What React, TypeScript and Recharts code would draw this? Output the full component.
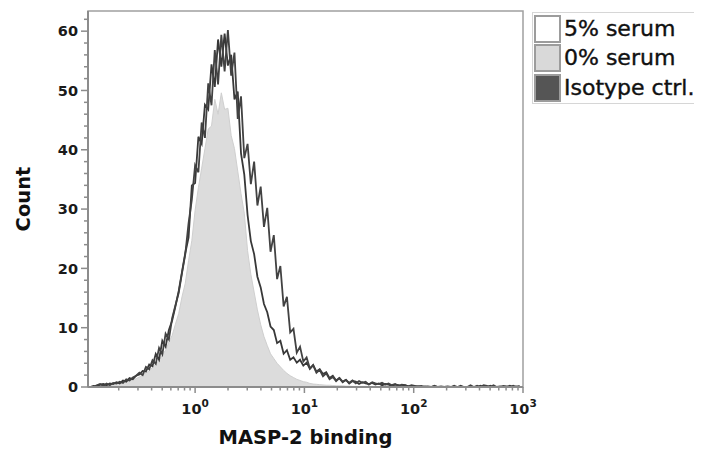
import React from "react";
import { ComposedChart, Area, Line, XAxis, YAxis, ReferenceArea } from "recharts";

// histogram bins on log10(MASP-2 binding)
const binStart = -0.96;
const binStep = 0.03;

const serum5 = [
  0, 0, 0.3, 0.5, 0.2, 0.6, 0.3, 0.7, 0.6, 0.9,
  0.7, 1.3, 1.1, 1.6, 1.9, 2.4, 2.0, 3.4, 3.0, 4.5,
  3.9, 6.6, 5.5, 9.0, 8.0, 11.6, 13.8, 15.9, 19.2, 22.4,
  27.6, 31.6, 37.4, 36.2, 44.6, 42.0, 51.2, 47.5, 56.8, 51.0,
  59.4, 53.2, 60.2, 52.5, 56.4, 45.2, 49.0, 38.6, 41.0, 34.2,
  38.0, 30.6, 33.8, 27.0, 30.2, 22.8, 25.6, 18.2, 20.4, 13.6,
  15.2, 9.2, 9.8, 5.8, 6.8, 4.3, 5.0, 3.1, 3.7, 2.4,
  2.9, 1.8, 2.3, 1.3, 1.7, 1.0, 1.5, 0.9, 1.2, 0.7,
  1.1, 0.6, 1.0, 0.7, 0.9, 0.4, 0.8, 0.6, 0.5, 0.7,
  0.4, 0.6, 0.3, 0.5, 0.2, 0.4, 0.3, 0.1, 0.3, 0.2,
  0.1, 0.2, 0, 0.1, 0, 0.2, 0, 0.1, 0, 0,
  0, 0.2, 0, 0, 0, 0, 0.3, 0, 0.2, 0,
  0.3, 0.2, 0, 0.3, 0, 0, 0.2, 0.1, 0, 0.2,
  0, 0.2,
];

const serum0 = [
  0, 0, 0, 0.2, 0.3, 0.4, 0.3, 0.5, 0.6, 0.6,
  0.8, 0.9, 1.0, 1.2, 1.4, 1.7, 2.0, 2.4, 2.7, 3.3,
  3.9, 4.4, 5.4, 6.2, 7.6, 8.7, 10.6, 12.4, 15.2, 17.5,
  21.3, 24.7, 29.8, 33.6, 36.9, 40.2, 43.5, 44.0, 48.5, 46.0,
  49.6, 46.8, 47.0, 42.4, 40.2, 36.4, 32.6, 29.3, 23.0, 19.0,
  16.0, 13.0, 10.5, 8.5, 7.0, 5.6, 4.8, 4.0, 3.4, 2.8,
  2.3, 1.9, 1.6, 1.3, 1.1, 0.9, 0.8, 0.6, 0.5, 0.45,
  0.4, 0.35, 0.3, 0.3, 0.25, 0.2, 0.2, 0.2, 0.15, 0.15,
  0.1, 0.1, 0.1, 0.1, 0.1, 0.1, 0, 0, 0, 0,
  0, 0, 0, 0, 0, 0, 0, 0, 0, 0,
  0, 0, 0, 0, 0, 0, 0, 0, 0, 0,
  0, 0, 0, 0, 0, 0, 0, 0, 0, 0,
  0, 0, 0, 0, 0, 0, 0, 0, 0, 0,
  0, 0,
];

const isotype = [
  0, 0.2, 0.1, 0.4, 0.5, 0.3, 0.6, 0.5, 0.8, 0.6,
  1.1, 0.9, 1.5, 1.3, 1.9, 2.1, 2.7, 2.6, 3.8, 3.5,
  5.6, 4.6, 7.8, 6.8, 9.6, 11.2, 13.6, 16.2, 19.4, 22.6,
  25.2, 34.0, 34.4, 42.2, 41.0, 47.6, 46.8, 54.4, 50.6, 58.6,
  54.0, 59.6, 54.2, 56.0, 48.5, 49.8, 39.4, 35.8, 29.0, 24.6,
  22.4, 18.6, 16.8, 14.0, 12.6, 10.2, 9.6, 7.4, 7.8, 5.6,
  6.2, 4.6, 5.0, 4.1, 4.6, 3.6, 4.1, 3.1, 3.7, 2.6,
  3.0, 2.2, 2.5, 1.5, 1.9, 1.1, 1.5, 0.8, 1.2, 0.6,
  1.0, 0.9, 0.5, 0.8, 0.6, 0.5, 0.7, 0.4, 0.6, 0.3,
  0.5, 0.4, 0.2, 0.4, 0.3, 0.1, 0.3, 0.1, 0.2, 0,
  0.1, 0, 0.1, 0, 0, 0.1, 0, 0, 0, 0.1,
  0, 0, 0, 0.2, 0, 0, 0, 0, 0, 0.2,
  0, 0, 0.2, 0, 0, 0.1, 0, 0, 0.2, 0,
  0.1, 0,
];

const yTickValues = [
  0, 2, 4, 6, 8, 10, 12, 14, 16, 18, 20, 22, 24, 26, 28, 30,
  32, 34, 36, 38, 40, 42, 44, 46, 48, 50, 52, 54, 56, 58, 60, 62,
];
const xDecades = [-1, 0, 1, 2];
const xMax = 3;
const xMin = -0.98;
const yMax = 63.4;

const legendNames = ["5% serum", "0% serum", "Isotype ctrl."];
const legendColors = ["#ffffff", "#d9d9d9", "#555555"];

const data = serum5.map((v, i) => ({
  l: +(binStart + binStep * i).toFixed(3),
  s5: v,
  s0: serum0[i],
  iso: isotype[i],
}));

const xTicks: number[] = [];
xDecades.forEach((d) => {
  for (let k = 1; k <= 9; k++) {
    const t = d + Math.log10(k);
    if (t >= xMin && t <= xMax) xTicks.push(t);
  }
});
xTicks.push(xMax);

const FONT = "'DejaVu Sans', Verdana, sans-serif";
const AXIS_COLOR = "#8c8c8c";

const XTick = (props: any) => {
  const { x, y, payload } = props;
  const v = payload.value as number;
  const major = Math.abs(v - Math.round(v)) < 1e-6;
  return (
    <g>
      <line x1={x} x2={x} y1={y} y2={y + (major ? 6 : 3.5)} stroke={AXIS_COLOR} strokeWidth={1.5} />
      {major && (
        <text x={x} y={y + 27} textAnchor="middle" fontFamily={FONT} fontWeight="bold" fontSize={14.5} fill="#1a1a1a">
          10
          <tspan dy={-7} fontSize={10.5}>
            {Math.round(v)}
          </tspan>
        </text>
      )}
    </g>
  );
};

const YTick = (props: any) => {
  const { x, y, payload } = props;
  const v = payload.value as number;
  const major = v % 10 === 0;
  return (
    <g>
      <line x1={x - (major ? 7 : 4)} x2={x} y1={y} y2={y} stroke={AXIS_COLOR} strokeWidth={1.5} />
      {major && (
        <text x={x - 10} y={y} dy="0.36em" textAnchor="end" fontFamily={FONT} fontWeight="bold" fontSize={14.5} fill="#1a1a1a">
          {v}
        </text>
      )}
    </g>
  );
};

const XTitle = (props: any) => {
  const vb = props.viewBox || { x: 80, y: 379, width: 435 };
  return (
    <text x={vb.x + vb.width / 2} y={vb.y + 57} textAnchor="middle" fontFamily={FONT} fontWeight="bold" fontSize={19.5} fill="#111">
      MASP-2 binding
    </text>
  );
};

const YTitle = (props: any) => {
  const vb = props.viewBox || { y: 3, height: 376 };
  const cx = 15;
  const cy = vb.y + vb.height / 2;
  return (
    <text
      x={cx}
      y={cy}
      transform={`rotate(-90, ${cx}, ${cy})`}
      textAnchor="middle"
      dominantBaseline="central"
      fontFamily={FONT}
      fontWeight="bold"
      fontSize={19.5}
      fill="#111"
    >
      Count
    </text>
  );
};

export default function App() {
  return (
    <div style={{ position: "relative", width: 694, height: 446 }}>
      <ComposedChart width={694} height={446} data={data} margin={{ top: 3, left: 0, right: 179, bottom: 7 }}>
        <ReferenceArea x1={xMin} x2={xMax} y1={0} y2={yMax} fill="none" stroke="#a0a0a0" strokeWidth={1.5} />
        <XAxis
          type="number"
          dataKey="l"
          domain={[xMin, xMax]}
          allowDataOverflow
          ticks={xTicks}
          interval={0}
          height={60}
          tickSize={0}
          tickMargin={0}
          tickLine={false}
          tick={<XTick />}
          axisLine={{ stroke: AXIS_COLOR, strokeWidth: 2 }}
          label={<XTitle />}
        />
        <YAxis
          type="number"
          domain={[0, yMax]}
          allowDataOverflow
          ticks={yTickValues}
          interval={0}
          width={80}
          tickSize={0}
          tickMargin={0}
          tickLine={false}
          tick={<YTick />}
          axisLine={{ stroke: AXIS_COLOR, strokeWidth: 2 }}
          label={<YTitle />}
        />
        <Area
          type="linear"
          dataKey="s0"
          fill="#dcdcdc"
          fillOpacity={1}
          stroke="#cfcfcf"
          strokeWidth={1}
          isAnimationActive={false}
          dot={false}
          activeDot={false}
        />
        <Line type="linear" dataKey="iso" stroke="#383838" strokeWidth={1.8} dot={false} activeDot={false} isAnimationActive={false} />
        <Line type="linear" dataKey="s5" stroke="#424242" strokeWidth={1.8} dot={false} activeDot={false} isAnimationActive={false} />
      </ComposedChart>
      <div
        style={{
          position: "absolute",
          left: 524,
          top: 4,
          width: 168,
          height: 92,
          border: "1px solid #d6d6d6",
          boxSizing: "border-box",
          background: "#fff",
          paddingTop: 1,
        }}
      >
        {legendNames.map((name, i) => (
          <div key={name} style={{ display: "flex", alignItems: "center", height: 29.5 }}>
            <div
              style={{
                width: 27,
                height: 28,
                marginLeft: 1,
                boxSizing: "border-box",
                border: "2px solid #9c9c9c",
                background: legendColors[i],
              }}
            />
            <span
              style={{
                marginLeft: 3,
                fontFamily: FONT,
                fontSize: 22,
                color: "#111",
                lineHeight: 1,
                whiteSpace: "nowrap",
                WebkitTextStroke: "0.4px #111",
              }}
            >
              {name}
            </span>
          </div>
        ))}
      </div>
    </div>
  );
}
